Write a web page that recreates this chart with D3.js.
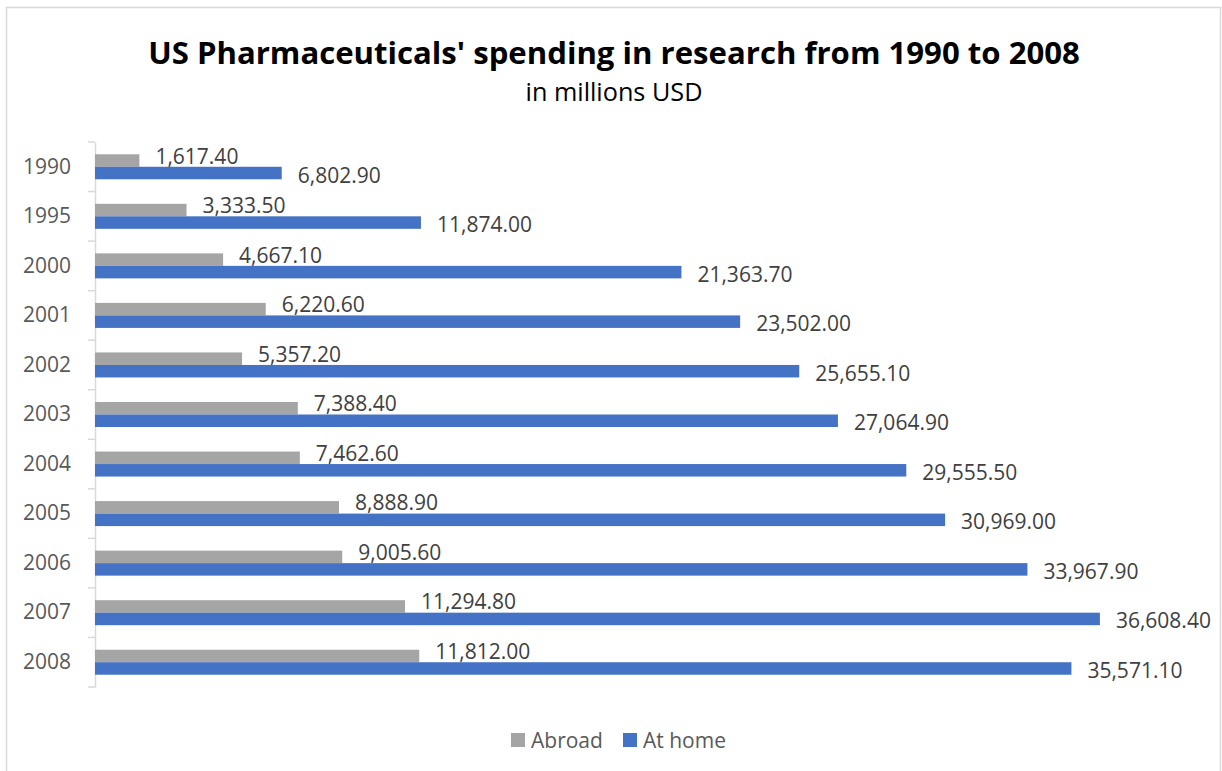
<!DOCTYPE html>
<html>
<head>
<meta charset="utf-8">
<script src="https://cdn.jsdelivr.net/npm/d3@7"></script>
<style>
  html, body { margin: 0; padding: 0; background: #fff; }
  svg { display: block; }
  text { font-family: "Open Sans", "Noto Sans", sans-serif; }
</style>
</head>
<body>
<svg id="chart" width="1222" height="771"></svg>
<script>
const years = ["1990", "1995", "2000", "2001", "2002", "2003", "2004", "2005", "2006", "2007", "2008"];
const abroad = [1617.40, 3333.50, 4667.10, 6220.60, 5357.20, 7388.40, 7462.60, 8888.90, 9005.60, 11294.80, 11812.00];
const atHome = [6802.90, 11874.00, 21363.70, 23502.00, 25655.10, 27064.90, 29555.50, 30969.00, 33967.90, 36608.40, 35571.10];
const seriesNames = ["Abroad", "At home"];
const seriesColors = ["#A5A5A5", "#4472C4"];
const titleText = "US Pharmaceuticals' spending in research from 1990 to 2008";
const subtitleText = "in millions USD";

const svg = d3.select("#chart");

// chart border
svg.append("rect")
  .attr("x", 6.5).attr("y", 7.5)
  .attr("width", 1214).attr("height", 790)
  .attr("fill", "#fff").attr("stroke", "#D9D9D9").attr("stroke-width", 1.5);

const x = d3.scaleLinear().domain([0, 40000]).range([95, 1193]);
const y = d3.scaleBand().domain(years).range([142, 687]).padding(0);
const groupH = 25;
const sub = d3.scaleBand().domain(seriesNames).range([0, groupH]).padding(0);
const groupOff = (y.bandwidth() - groupH) / 2;

const fmt = d3.format(",.2f");

// title
const title = svg.append("text")
  .attr("x", 614).attr("y", 64)
  .attr("text-anchor", "middle")
  .attr("font-weight", "bold")
  .attr("font-size", 32)
  .attr("fill", "#000")
  .text(titleText);
const tw = title.node().getComputedTextLength();
title.attr("font-size", 32 * 932 / tw);

const subtitle = svg.append("text")
  .attr("x", 614).attr("y", 101)
  .attr("text-anchor", "middle")
  .attr("font-size", 24)
  .attr("fill", "#000")
  .text(subtitleText);
const sw = subtitle.node().getComputedTextLength();
subtitle.attr("font-size", 24 * 177 / sw);

// axis
const axis = d3.axisLeft(y).tickSize(0).tickPadding(24);
const gAxis = svg.append("g").attr("transform", "translate(95,0)").call(axis);
gAxis.select(".domain").attr("stroke", "#D9D9D9").attr("stroke-width", 1.5);
gAxis.selectAll(".tick text")
  .attr("font-size", 21)
  .attr("fill", "#595959")
  .attr("font-family", "'Open Sans', 'Noto Sans', sans-serif");

// tick marks at band boundaries
const boundaries = years.map(d => y(d)).concat([y(years[years.length - 1]) + y.bandwidth()]);
svg.append("g").selectAll("line").data(boundaries).join("line")
  .attr("x1", 88).attr("x2", 95)
  .attr("y1", d => d).attr("y2", d => d)
  .attr("stroke", "#D9D9D9").attr("stroke-width", 1.5);

const series = [abroad, atHome];
const labelOffsets = [-5, 1.5];

series.forEach((vals, si) => {
  const name = seriesNames[si];
  const g = svg.append("g");
  g.selectAll("rect").data(years).join("rect")
    .attr("x", x(0))
    .attr("y", (d) => y(d) + groupOff + sub(name))
    .attr("width", (d, i) => x(vals[i]) - x(0))
    .attr("height", sub.bandwidth())
    .attr("fill", seriesColors[si]);
  g.selectAll("text").data(years).join("text")
    .attr("x", (d, i) => x(vals[i]) + 16)
    .attr("y", (d) => y(d) + groupOff + sub(name) + sub.bandwidth() / 2 + labelOffsets[si])
    .attr("dominant-baseline", "central")
    .attr("font-size", 21)
    .attr("fill", "#404040")
    .text((d, i) => fmt(vals[i]));
});

// legend
const legend = svg.append("g");
const legendItems = [{ name: "Abroad", x: 511 }, { name: "At home", x: 623 }];
legendItems.forEach((it, i) => {
  legend.append("rect")
    .attr("x", it.x).attr("y", 733)
    .attr("width", 14).attr("height", 14)
    .attr("fill", seriesColors[i]);
  legend.append("text")
    .attr("x", it.x + 20).attr("y", 740)
    .attr("dominant-baseline", "central")
    .attr("font-size", 21)
    .attr("fill", "#595959")
    .text(it.name);
});
</script>
</body>
</html>
